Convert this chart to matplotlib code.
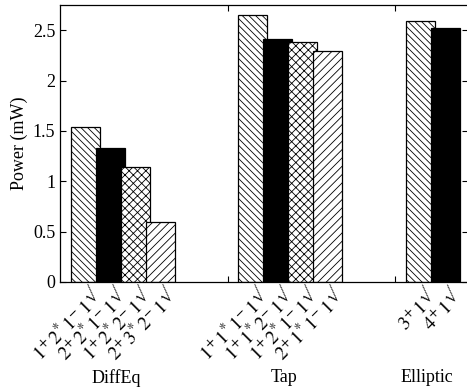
import matplotlib
matplotlib.use("Agg")
import matplotlib.pyplot as plt
import matplotlib.transforms as mtransforms

plt.rcParams['font.family'] = ['Liberation Serif', 'DejaVu Serif']
plt.rcParams['mathtext.fontset'] = 'stix'
plt.rcParams['hatch.linewidth'] = 0.6

# data
groups = ["DiffEq", "Tap", "Elliptic"]
configs = [
    [r"$1^{+}\,2^{*}\,1^{-}\,1^{√}$", r"$2^{+}\,2^{*}\,1^{-}\,1^{√}$",
     r"$1^{+}\,2^{*}\,2^{-}\,1^{√}$", r"$2^{+}\,3^{*}\,2^{-}\,1^{√}$"],
    [r"$1^{+}\,1^{*}\,1^{-}\,1^{√}$", r"$1^{+}\,1^{*}\,2^{-}\,1^{√}$",
     r"$1^{+}\,2^{*}\,1^{-}\,1^{√}$", r"$2^{+}\,1^{*}\,1^{-}\,1^{√}$"],
    [r"$3^{+}\,1^{√}$", r"$4^{+}\,1^{√}$"],
]
power = [
    [1.54, 1.33, 1.14, 0.60],
    [2.65, 2.41, 2.38, 2.29],
    [2.59, 2.52],
]

styles = [
    dict(facecolor="white", hatch="\\\\\\\\\\"),
    dict(facecolor="black", hatch=None),
    dict(facecolor="white", hatch="xxxx"),
    dict(facecolor="white", hatch="////"),
]

fig = plt.figure(figsize=(4.67, 3.91), dpi=100)
ax = fig.add_axes([60 / 467, 109 / 391, 408 / 467, 277 / 391])

gap = 3.7
start = 1.0
separators = []
trans = mtransforms.blended_transform_factory(ax.transData, ax.transAxes)
for g, name in enumerate(groups):
    xs = [start + i for i in range(len(power[g]))]
    for i, (x, v) in enumerate(zip(xs, power[g])):
        ax.bar(x, v, width=1.16, edgecolor="black", linewidth=0.9, **styles[i])
        ax.text(x + 0.2, -0.005, configs[g][i], transform=trans, rotation=45,
                ha="right", va="top", rotation_mode="anchor", fontsize=14)
    ax.text(sum(xs) / len(xs) - 0.25, -0.345, name, transform=trans,
            ha="center", va="center", fontsize=13)
    start = xs[-1] + gap
    if g < len(groups) - 1:
        separators.append(start - 1.0)

ax.set_xlim(0, 16.3)
ax.set_ylim(0, 2.75)
ax.set_xticks(separators)
ax.set_xticklabels([])
ax.set_yticks([0, 0.5, 1, 1.5, 2, 2.5])
ax.set_yticklabels(["0", "0.5", "1", "1.5", "2", "2.5"])
ax.tick_params(direction="in", length=4, top=True, right=True, labelsize=13, width=0.8)
ax.set_ylabel("Power (mW)", fontsize=13, labelpad=3)
for s in ax.spines.values():
    s.set_linewidth(0.9)

fig.savefig("out.png", dpi=100)
